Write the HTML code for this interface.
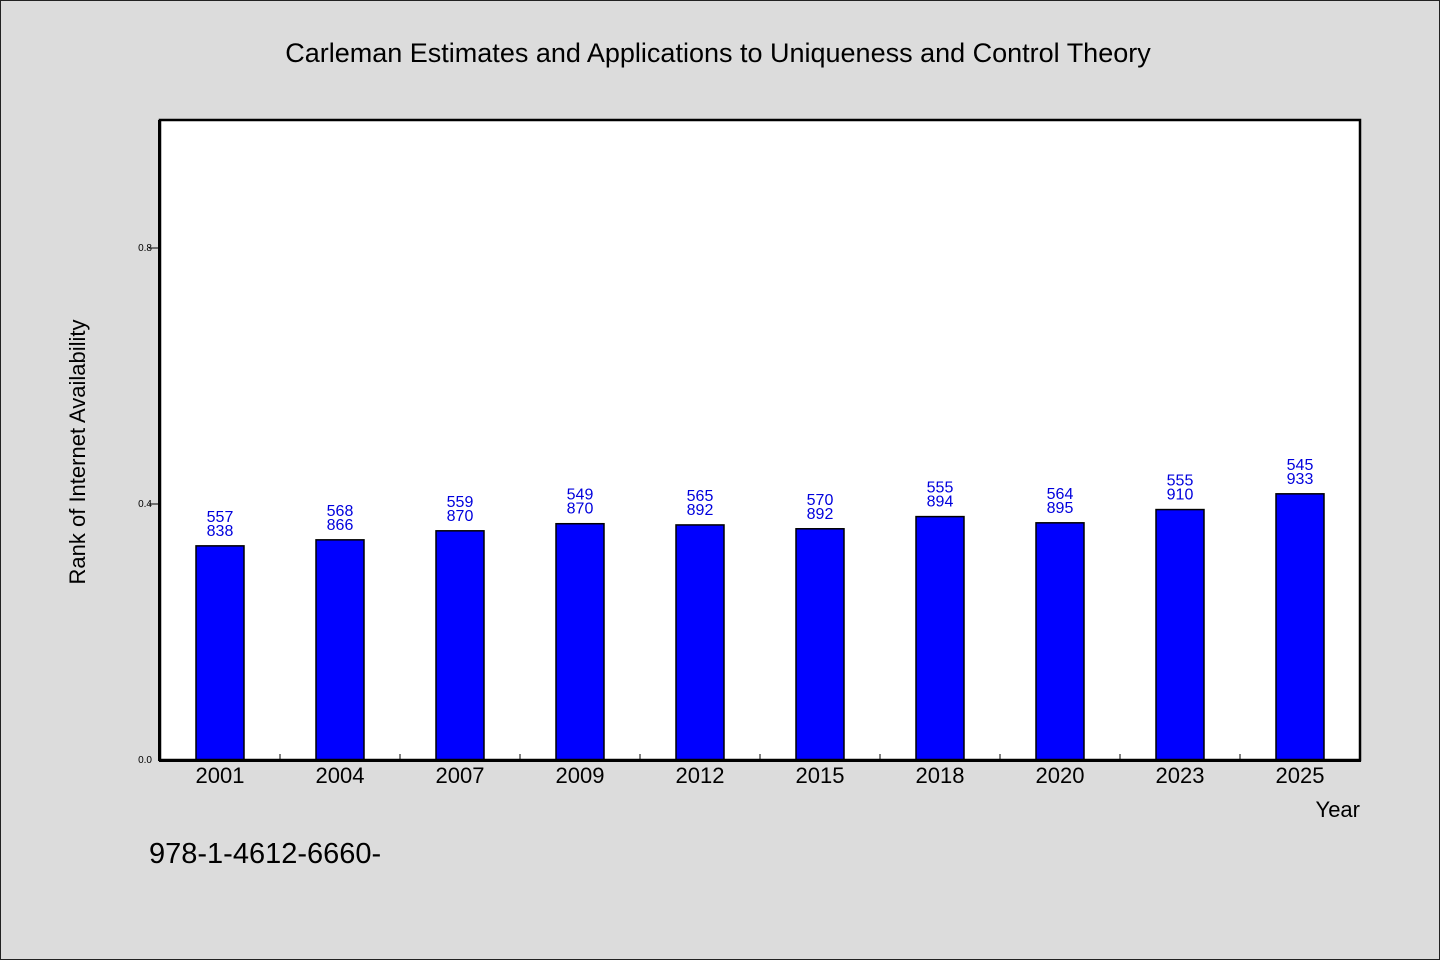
<!DOCTYPE html>
<html><head><meta charset="utf-8"><style>
html,body{margin:0;padding:0;background:#dcdcdc;}
svg{display:block;font-family:"WenQuanYi Zen Hei","Liberation Sans",sans-serif;}
</style></head><body>
<svg id="chart" width="1440" height="960" xmlns="http://www.w3.org/2000/svg">
<rect x="0.5" y="0.5" width="1439" height="959" fill="#dcdcdc" stroke="#222"/>
<text x="718" y="62" font-size="27" text-anchor="middle" fill="#000">Carleman Estimates and Applications to Uniqueness and Control Theory</text>
<rect x="160" y="120" width="1200" height="640" fill="#fff"/>
<g id="bars"></g>
<g id="axes"></g>
<text transform="translate(85,452) rotate(-90)" font-size="22" text-anchor="middle" fill="#000">Rank of Internet Availability</text>
<text x="1360" y="817" font-size="22" text-anchor="end" fill="#000">Year</text>
<text x="149" y="863" font-size="29" fill="#000">978-1-4612-6660-</text>
</svg>
<script>
const categories = ["2001","2004","2007","2009","2012","2015","2018","2020","2023","2025"];
const values = [0.3346, 0.3440, 0.3581, 0.3692, 0.3673, 0.3613, 0.3803, 0.3706, 0.3913, 0.4159];
const labelTop = ["557","568","559","549","565","570","555","564","555","545"];
const labelBottom = ["838","866","870","870","892","892","894","895","910","933"];
const yTicks = [0.0, 0.4, 0.8];
const yTickLabels = ["0.0","0.4","0.8"];

const NS = "http://www.w3.org/2000/svg";
const X0 = 160, X1 = 1360, Y0 = 760, Y1 = 120, YMAX = 1.0;
const slot = (X1 - X0) / categories.length;
const xScale = i => X0 + slot * (i + 0.5);
const yScale = v => Y0 - (v / YMAX) * (Y0 - Y1);
function mk(tag, attrs, parent){const e=document.createElementNS(NS,tag);for(const k in attrs)e.setAttribute(k,attrs[k]);parent.appendChild(e);return e;}
const bars = document.getElementById("bars");
const axes = document.getElementById("axes");
const bw = 48;
categories.forEach((c,i)=>{
  const cx = xScale(i), top = yScale(values[i]);
  const r = mk("rect",{x:cx-bw/2,y:top,width:bw,height:Y0-top,fill:"#0000ff",stroke:"#000","stroke-width":1.5},bars);
  
  
  const t1 = mk("text",{x:cx,y:top-24,"font-size":16,"text-anchor":"middle",fill:"#0000dd"},bars);
  t1.textContent = labelTop[i];
  
  
  const t2 = mk("text",{x:cx,y:top-10,"font-size":16,"text-anchor":"middle",fill:"#0000dd"},bars);
  t2.textContent = labelBottom[i];
  
  
  const xl = mk("text",{x:cx,y:783,"font-size":22,"text-anchor":"middle",fill:"#000"},axes);
  xl.textContent = c;
  
  
  if (i > 0) {
    const tk = mk("line",{x1:X0+slot*i,x2:X0+slot*i,y1:Y0,y2:Y0-6,stroke:"#000","stroke-width":1},axes);
    
    
  }
});
yTicks.forEach((v,i)=>{
  const y = yScale(v);
  if (v > 0) {
    const tk = mk("line",{x1:X0-11,x2:X0,y1:y,y2:y,stroke:"#000","stroke-width":1},axes);
    
    
  }
  const tl = mk("text",{x:X0-8-(v>0?0:0),y:y+3,"font-size":10,"text-anchor":"end",fill:"#000"},axes);
  tl.setAttribute("x", 152);
  tl.textContent = yTickLabels[i];
  
  
});
const frame = mk("rect",{x:X0,y:Y1,width:X1-X0,height:Y0-Y1,fill:"none",stroke:"#000","stroke-width":2.5},axes);


const xa = mk("line",{x1:X0-1,x2:X1+1,y1:Y0+0.5,y2:Y0+0.5,stroke:"#000","stroke-width":3},axes);


const ya = mk("line",{x1:X0-0.5,x2:X0-0.5,y1:Y1,y2:Y0+1,stroke:"#000","stroke-width":3},axes);


</script>
</body></html>
